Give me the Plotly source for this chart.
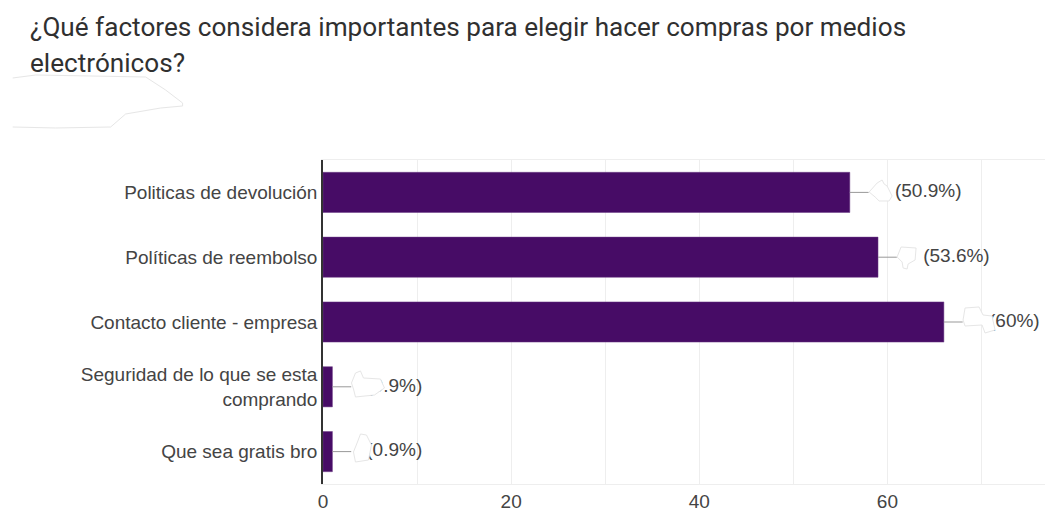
import plotly.graph_objects as go

WIDTH, HEIGHT = 1045, 512
MARGIN = dict(l=322.5, r=0, t=160, b=28)

# Survey responses
categories = [
    "Politicas de devolución",
    "Políticas de reembolso",
    "Contacto cliente - empresa",
    "Seguridad de lo que se esta<br>comprando",
    "Que sea gratis bro",
]
counts = [56, 59, 66, 1, 1]
percent_labels = ["(50.9%)", "(53.6%)", "(60%)", "(0.9%)", "(0.9%)"]
label_offsets = [4.8, 4.8, 4.8, 3.6, 3.6]

title_line_1 = "¿Qué factores considera importantes para elegir hacer compras por medios"
title_line_2 = "electrónicos?"

BAR_COLOR = "#470c66"
BAR_EDGE = "#6a3a85"
TEXT_COLOR = "#444444"
GRID_COLOR = "#eeeeee"
PATCH_EDGE = "#e6e6e6"
LABEL_FONT = dict(family="Liberation Sans", size=19, color=TEXT_COLOR)
TITLE_FONT = dict(family="Roboto", size=26.15, color="#303030")

# Hand-drawn white patches that redact parts of the page, in page pixels
redactions = [
    ([(12, 78), (35, 75), (145, 77), (165, 90), (182, 103), (182, 106), (160, 108),
      (125, 114), (110, 127), (55, 128), (12, 127)], False),
    ([(869, 192), (877, 183), (882, 180), (884, 184), (887, 186), (892, 196),
      (889, 201), (879, 201), (875, 197)], True),
    ([(897, 257), (901, 247), (916, 248), (915, 260), (908, 264), (907, 269),
      (903, 268), (902, 262)], True),
    ([(963, 320), (965, 308), (979, 307), (983, 315), (992, 316), (995, 330),
      (985, 333), (982, 325), (965, 326)], True),
    ([(351, 383), (355, 373), (360, 371), (363, 378), (380, 379), (384, 388),
      (374, 395), (355, 397), (353, 389)], True),
    ([(353, 452), (357, 442), (360, 434), (366, 435), (371, 445), (368, 460),
      (355, 462)], True),
]


def to_paper(px, py):
    plot_w = WIDTH - MARGIN["l"] - MARGIN["r"]
    plot_h = HEIGHT - MARGIN["t"] - MARGIN["b"]
    return (px - MARGIN["l"]) / plot_w, 1 - (py - MARGIN["t"]) / plot_h


def patch_path(points, closed):
    coords = [to_paper(*p) for p in points]
    path = "M " + " L ".join(f"{x:.5f},{y:.5f}" for x, y in coords)
    return path + " Z" if closed else path


fig = go.Figure()
fig.add_trace(go.Bar(
    x=counts,
    y=categories,
    orientation="h",
    marker=dict(color=BAR_COLOR, line=dict(color=BAR_EDGE, width=0.5)),
    error_x=dict(type="data", symmetric=False, array=[2] * len(counts),
                 arrayminus=[0] * len(counts), color="#999999", thickness=1, width=0),
    hoverinfo="skip",
))
fig.add_trace(go.Scatter(
    x=[c + off for c, off in zip(counts, label_offsets)],
    y=categories,
    mode="text",
    text=percent_labels,
    textposition="middle right",
    textfont=LABEL_FONT,
    cliponaxis=False,
    hoverinfo="skip",
))

fig.update_layout(
    width=WIDTH,
    height=HEIGHT,
    margin=MARGIN,
    paper_bgcolor="white",
    plot_bgcolor="white",
    showlegend=False,
    bargap=0.38,
    title=dict(text=title_line_1, font=TITLE_FONT, x=30 / WIDTH, xanchor="left",
               xref="container", y=1 - 27 / HEIGHT, yanchor="middle", yref="container"),
    xaxis=dict(
        range=[0, 76.75],
        tickvals=[0, 20, 40, 60],
        showgrid=True,
        gridcolor=GRID_COLOR,
        gridwidth=1,
        minor=dict(dtick=10, showgrid=True, gridcolor=GRID_COLOR, gridwidth=1),
        zeroline=False,
        showline=True,
        linecolor=GRID_COLOR,
        mirror=True,
        ticks="",
        tickfont=LABEL_FONT,
    ),
    yaxis=dict(
        autorange="reversed",
        showline=True,
        linecolor="#333333",
        linewidth=1.5,
        showgrid=False,
        ticks="",
        ticklabelstandoff=0,
        tickfont=LABEL_FONT,
    ),
    annotations=[dict(
        text=title_line_2, font=TITLE_FONT, showarrow=False,
        xref="paper", yref="paper",
        x=to_paper(27, 0)[0], y=to_paper(0, 63)[1],
        xanchor="left", yanchor="middle",
    )],
    shapes=[dict(
        type="path", path=patch_path(pts, closed), xref="paper", yref="paper",
        fillcolor="white", line=dict(color=PATCH_EDGE, width=1), layer="above",
    ) for pts, closed in redactions],
)

fig.write_html("out.html")
